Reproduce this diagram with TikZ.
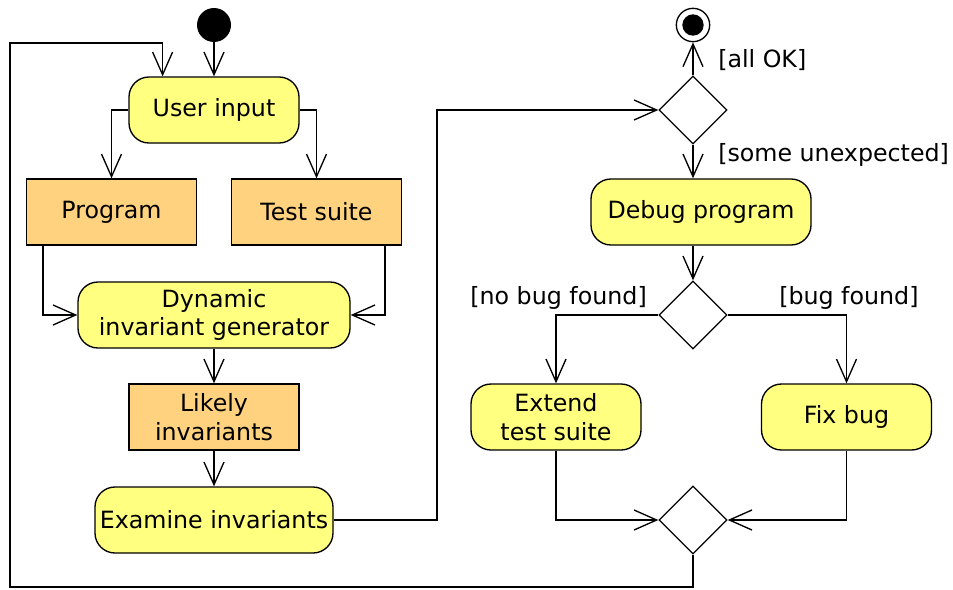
\documentclass[tikz,border=0pt]{standalone}
\usepackage{fontspec}
\setmainfont{DejaVu Sans}
\usetikzlibrary{arrows.meta,shapes.geometric,calc}
\definecolor{actfill}{HTML}{FFFF80}
\definecolor{objfill}{HTML}{FFD280}

\begin{document}
\begin{tikzpicture}[x=0.75pt,y=-0.75pt,
	font=\fontsize{17.8}{21.5}\selectfont,
	activity/.style={shape=rectangle,rounded corners=15pt,draw=black,fill=actfill,line width=1pt,minimum height=49.5pt,align=center,inner sep=2pt},
	object/.style={shape=rectangle,draw=black,fill=objfill,line width=1pt,minimum height=49.5pt,minimum width=127.5pt,align=center,inner sep=2pt},
	choice/.style={shape=diamond,draw=black,fill=white,line width=1pt,minimum width=51pt,minimum height=51pt,inner sep=0pt},
	flow/.style={draw=black,line width=1pt,-{Straight Barb[length=17pt,width=15pt]}},
	guard/.style={inner sep=0pt}]
	\useasboundingbox (0,0) rectangle (953,589);

	\node[shape=circle,fill=black,minimum size=25.5pt,inner sep=0pt] (start) at (214, 25) {};
	\node[activity,minimum width=127.5pt] (uin) at (214, 110) {User input};
	\node[object] (prog) at (111.5, 212) {Program};
	\node[object] (suite) at (316.5, 212) {Test suite};
	\node[activity,minimum width=204pt] (dig) at (214, 315) {Dynamic\\invariant generator};
	\node[object] (likely) at (214, 417) {Likely\\invariants};
	\node[activity,minimum width=178.5pt] (exam) at (214, 520) {Examine invariants};

	\node[shape=circle,draw=black,fill=white,line width=1pt,minimum size=25pt,inner sep=0pt] (final) at (693, 25) {};
	\node[shape=circle,fill=black,minimum size=16pt,inner sep=0pt] (finaldot) at (693, 25) {};
	\node[choice] (check) at (693, 110) {};
	\node[activity,minimum width=165pt] (debug) at (701, 212) {Debug program};
	\node[choice] (found) at (693, 315) {};
	\node[activity,minimum width=127.5pt] (extend) at (556, 417) {Extend\\test suite};
	\node[activity,minimum width=127.5pt] (fix) at (846.5, 417) {Fix bug};
	\node[choice] (merge) at (693, 520) {};

	\node[guard,anchor=west] (allok) at (718, 60) {[all OK]};
	\node[guard,anchor=west] (unexp) at (718, 155) {[some unexpected]};
	\node[guard,anchor=east] (nobug) at (647, 298) {[no bug found]};
	\node[guard,anchor=west] (bug) at (779, 298) {[bug found]};

	\coordinate (bend) at (437, 300);
	\coordinate (loopbl) at (10, 587);
	\coordinate (looptl) at (10, 43);
	\coordinate (uinentry) at ($(uin.north west)!0.2!(uin.north east)$);

	\path[flow] (start) edge (uin);
	\draw[flow] (uin.west) -| (prog.north);
	\draw[flow] (uin.east) -| (suite.north);
	\draw[flow] ($(prog.south west)!0.1!(prog.south east)$) |- (dig.west);
	\draw[flow] ($(suite.south west)!0.9!(suite.south east)$) |- (dig.east);
	\path[flow] (dig) edge (likely);
	\path[flow] (likely) edge (exam);
	\draw[flow] (exam.east) -| (bend) |- (check.west);
	\path[flow] (check) edge (final);
	\draw[flow] (check.south) -- (check.south |- debug.north);
	\draw[flow] (debug.south -| found) -- (found.north);
	\draw[flow] (found.west) -| (extend.north);
	\draw[flow] (found.east) -| (fix.north);
	\draw[flow] (extend.south) |- (merge.west);
	\draw[flow] (fix.south) |- (merge.east);
	\draw[flow] (merge.south) |- (loopbl) -- (looptl) -| (uinentry);

\end{tikzpicture}
\end{document}
